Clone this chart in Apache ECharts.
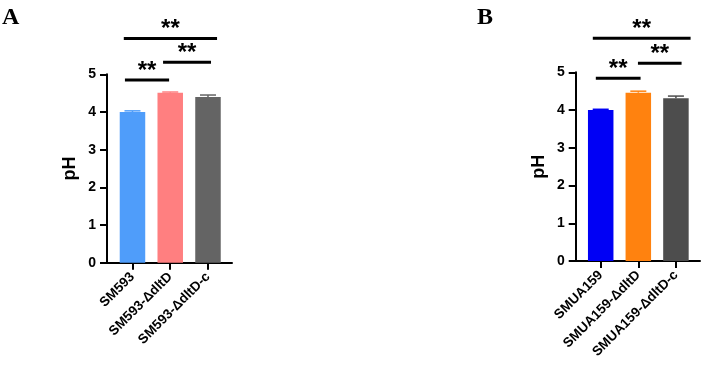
<!DOCTYPE html>
<html>
<head>
<meta charset="utf-8">
<script src="https://cdn.jsdelivr.net/npm/echarts@6/dist/echarts.min.js"></script>
<style>
  html, body { margin: 0; padding: 0; background: #fff; }
  #chart { width: 704px; height: 368px; }
</style>
</head>
<body>
<div id="chart"></div>
<script>
// panel A
const namesA = ['SM593', 'SM593-ΔdltD', 'SM593-ΔdltD-c'];
const valuesA = [4.0, 4.51, 4.40];
const errTopA = [4.03, 4.53, 4.45];
const colorsA = ['#4f9dfa', '#ff7f80', '#646464'];
// x1, x2, y of the significance lines
const bracketsA = [[-0.2, 0.97, 4.85], [0.81, 2.08, 5.32], [-0.23, 2.24, 5.95]];

// panel B
const namesB = ['SMUA159', 'SMUA159-ΔdltD', 'SMUA159-ΔdltD-c'];
const valuesB = [4.0, 4.46, 4.31];
const errTopB = [4.02, 4.50, 4.37];
const colorsB = ['#0000f5', '#ff820f', '#4d4d4d'];
const bracketsB = [[-0.13, 1.06, 4.84], [0.99, 2.15, 5.24], [-0.21, 2.39, 5.90]];

const yTicks = [0, 1, 2, 3, 4, 5];
const FONT = 'Liberation Sans';

const chart = echarts.init(document.getElementById('chart'));

function xAxisFor(idx, names, min, max) {
  return {
    type: 'value', gridIndex: idx, min: min, max: max,
    splitLine: { show: false },
    axisLine: { show: true, onZero: false, lineStyle: { color: '#000', width: 2 } },
    axisTick: { show: true, length: 7, lineStyle: { color: '#000', width: 2 }, customValues: [0, 1, 2] },
    axisLabel: {
      customValues: [0, 1, 2], rotate: 45, margin: 12,
      formatter: v => names[Math.round(v)],
      color: '#000', fontFamily: FONT, fontWeight: 'bold', fontSize: 13.5
    }
  };
}

function yAxisFor(idx) {
  return {
    type: 'value', gridIndex: idx, min: 0, max: 5, interval: 1,
    name: 'pH', nameLocation: 'middle', nameGap: 28,
    nameTextStyle: { color: '#000', fontFamily: FONT, fontWeight: 'bold', fontSize: 18 },
    splitLine: { show: false },
    axisLine: { show: true, onZero: false, lineStyle: { color: '#000', width: 2 } },
    axisTick: { show: true, length: 7, lineStyle: { color: '#000', width: 2 } },
    axisLabel: {
      margin: 11, color: '#000', fontFamily: FONT, fontWeight: 'bold', fontSize: 14,
      formatter: v => (yTicks.indexOf(v) >= 0 ? String(v) : '')
    }
  };
}

function barSeries(idx, values, colors) {
  return {
    type: 'bar', xAxisIndex: idx, yAxisIndex: idx, barWidth: 25.5,
    data: values.map((v, i) => ({ value: [i, v], itemStyle: { color: colors[i] } }))
  };
}

function errSeries(idx, values, tops, colors) {
  return {
    type: 'custom', xAxisIndex: idx, yAxisIndex: idx, z: 3,
    data: values.map((v, i) => [i, v, tops[i]]),
    renderItem: (params, api) => {
      const i = api.value(0);
      const lo = api.coord([i, api.value(1)]);
      const hi = api.coord([i, api.value(2)]);
      const st = { stroke: colors[i], lineWidth: 1.5 };
      return {
        type: 'group', children: [
          { type: 'line', shape: { x1: lo[0], y1: lo[1], x2: hi[0], y2: hi[1] }, style: st },
          { type: 'line', shape: { x1: hi[0] - 8, y1: hi[1], x2: hi[0] + 8, y2: hi[1] }, style: st }
        ]
      };
    }
  };
}

function bracketSeries(idx, brackets) {
  return {
    type: 'custom', xAxisIndex: idx, yAxisIndex: idx, clip: false, z: 4,
    data: brackets,
    renderItem: (params, api) => {
      const a = api.coord([api.value(0), api.value(2)]);
      const b = api.coord([api.value(1), api.value(2)]);
      return {
        type: 'group', children: [
          { type: 'line', shape: { x1: a[0], y1: a[1], x2: b[0], y2: b[1] },
            style: { stroke: '#000', lineWidth: 3 } },
          { type: 'text', x: (a[0] + b[0]) / 2, y: a[1] + 3,
            style: { text: '**', fill: '#000', font: 'bold 24px "Liberation Sans"',
                     textAlign: 'center', textVerticalAlign: 'bottom' } }
        ]
      };
    }
  };
}

chart.setOption({
  animation: false,
  backgroundColor: '#fff',
  title: [
    { text: 'A', left: 2, top: 6, padding: 0,
      textStyle: { fontFamily: 'Liberation Serif', fontWeight: 'bold', fontSize: 24, color: '#000' } },
    { text: 'B', left: 477, top: 6, padding: 0,
      textStyle: { fontFamily: 'Liberation Serif', fontWeight: 'bold', fontSize: 24, color: '#000' } }
  ],
  grid: [
    { left: 107, top: 74.3, width: 125, height: 188.4, containLabel: false, outerBoundsMode: 'none' },
    { left: 575.7, top: 72.3, width: 124.3, height: 188.7, containLabel: false, outerBoundsMode: 'none' }
  ],
  xAxis: [xAxisFor(0, namesA, -0.675, 2.636), xAxisFor(1, namesB, -0.665, 2.64)],
  yAxis: [yAxisFor(0), yAxisFor(1)],
  series: [
    barSeries(0, valuesA, colorsA),
    errSeries(0, valuesA, errTopA, colorsA),
    bracketSeries(0, bracketsA),
    barSeries(1, valuesB, colorsB),
    errSeries(1, valuesB, errTopB, colorsB),
    bracketSeries(1, bracketsB)
  ]
});
</script>
</body>
</html>
